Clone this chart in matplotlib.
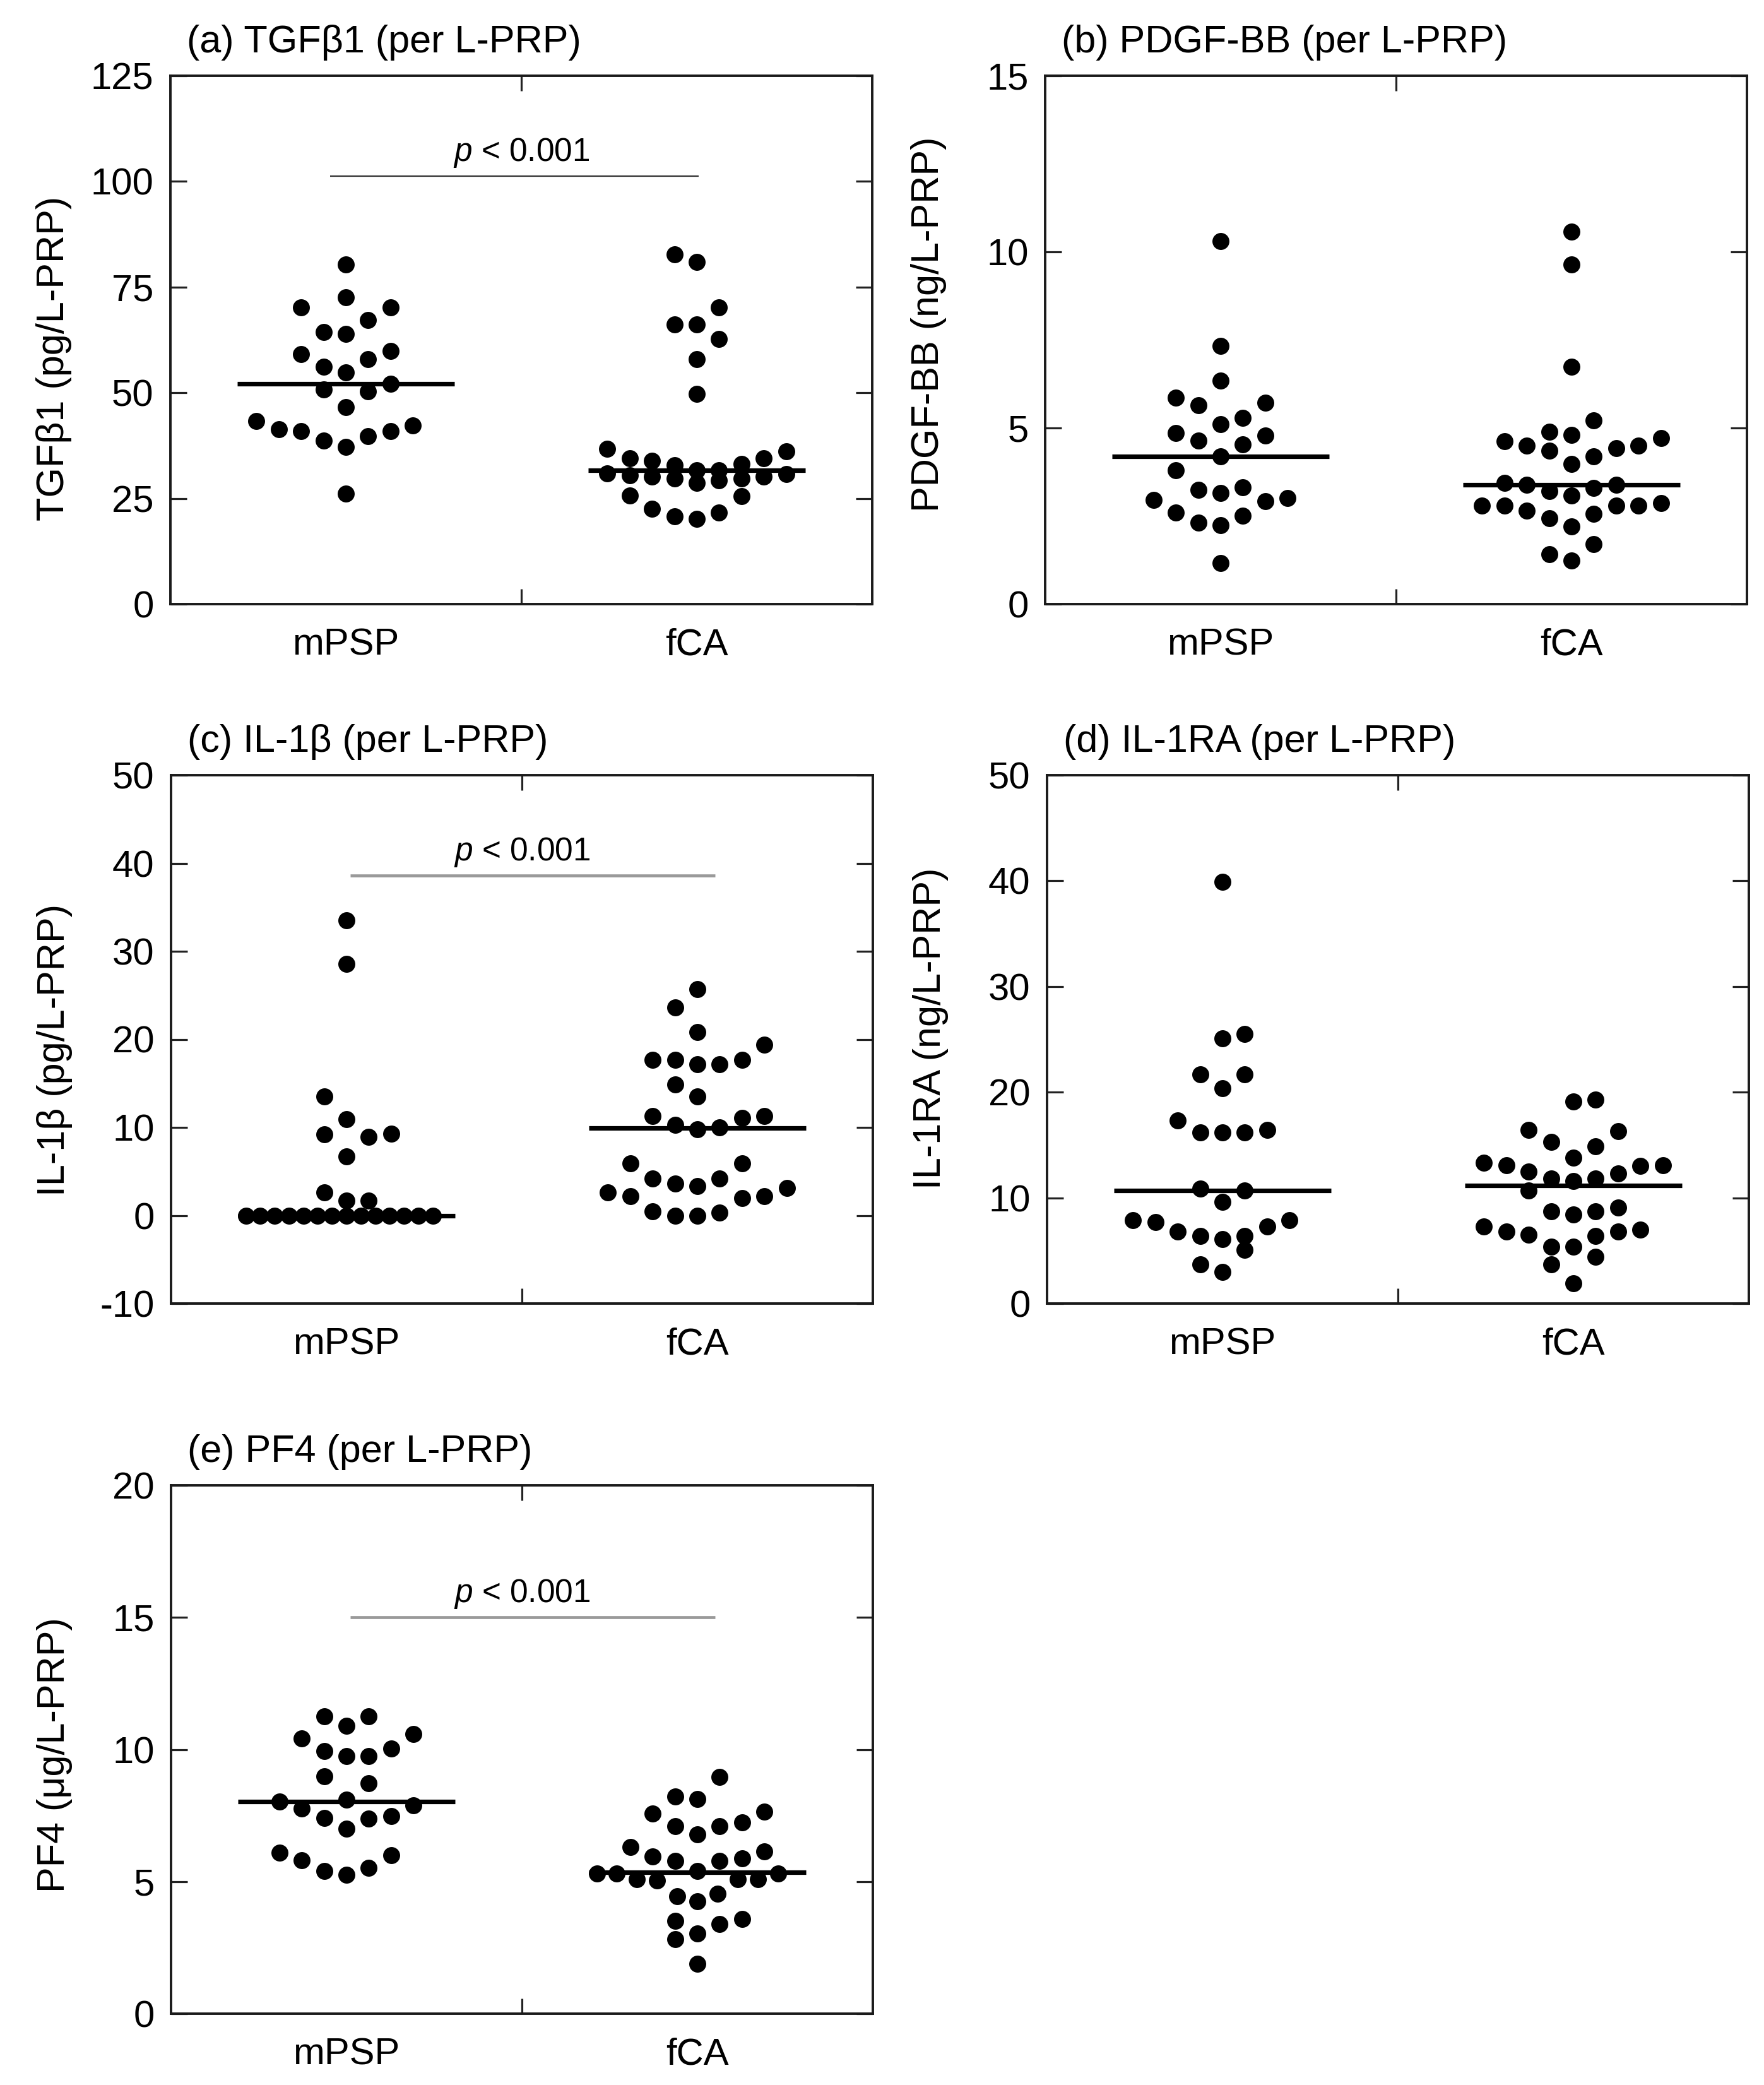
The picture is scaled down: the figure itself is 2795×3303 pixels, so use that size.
import numpy as np
import matplotlib
matplotlib.use("Agg")
import matplotlib.pyplot as plt

plt.rcParams['font.family'] = ['Liberation Sans', 'DejaVu Sans']
plt.rcParams['axes.unicode_minus'] = False
plt.rcParams['mathtext.fontset'] = 'custom'
plt.rcParams['mathtext.rm'] = 'Liberation Sans'
plt.rcParams['mathtext.it'] = 'Liberation Sans:italic'

# ---------------- data ----------------
groups = ['mPSP', 'fCA']

tgfb1_mpsp = [80.3, 72.6, 70.2, 70.2, 67.2, 64.4, 63.9, 59.1, 59.9, 58.0, 56.2, 54.8, 50.8,
              50.3, 52.1, 46.6, 43.3, 41.4, 40.9, 38.7, 37.2, 39.7, 40.9, 42.3, 26.2]
tgfb1_fca = [82.7, 81.0, 70.2, 66.2, 66.2, 62.7, 58.0, 49.8, 36.7, 34.5, 33.9, 32.9, 31.7,
             31.7, 33.2, 34.5, 36.2, 30.7, 30.2, 29.7, 29.7, 28.7, 29.2, 30.2, 30.5, 30.9,
             25.5, 25.7, 22.6, 20.8, 20.1, 21.6]

pdgf_mpsp = [10.30, 7.33, 6.34, 5.86, 5.64, 5.71, 5.29, 5.10, 4.86, 4.79, 4.65, 4.53, 4.20,
             3.80, 3.24, 3.16, 3.32, 2.96, 2.92, 3.01, 2.60, 2.51, 2.32, 2.24, 1.17]
pdgf_fca = [10.57, 9.64, 6.74, 5.22, 4.89, 4.80, 4.63, 4.71, 4.49, 4.49, 4.43, 4.35, 4.20,
            3.98, 3.44, 3.38, 3.38, 3.20, 3.29, 3.08, 2.80, 2.80, 2.80, 2.80, 2.86, 2.66,
            2.44, 2.56, 2.21, 1.71, 1.41, 1.23]

il1b_mpsp = [33.5, 28.6, 13.5, 10.9, 9.2, 8.9, 9.3, 6.7, 2.6, 1.7, 1.7,
             0.0, 0.0, 0.0, 0.0, 0.0, 0.0, 0.0, 0.0, 0.0, 0.0, 0.0, 0.0, 0.0, 0.0]
il1b_fca = [25.7, 23.6, 20.8, 19.4, 17.7, 17.7, 17.7, 17.2, 17.2, 14.9, 13.5, 11.3, 11.1,
            11.3, 10.3, 10.0, 9.8, 5.9, 5.9, 4.2, 4.2, 3.6, 3.3, 3.1, 2.6, 2.2, 2.0, 2.2,
            0.45, 0.3, 0.0, 0.0]

il1ra_mpsp = [39.9, 25.1, 25.5, 21.7, 21.7, 20.4, 17.3, 16.2, 16.2, 16.2, 16.4, 10.9, 10.7,
              9.6, 7.9, 7.7, 7.9, 6.8, 7.3, 6.4, 6.1, 6.4, 5.1, 3.7, 3.0]
il1ra_fca = [19.1, 19.3, 16.45, 16.3, 15.3, 14.9, 13.82, 13.3, 13.1, 13.0, 13.1, 12.5, 12.3,
             11.8, 11.6, 11.8, 10.7, 8.7, 8.4, 8.7, 9.1, 7.3, 6.8, 6.5, 6.8, 7.0, 6.4, 5.4,
             5.4, 4.4, 3.7, 1.9]

pf4_mpsp = [11.26, 11.26, 10.89, 10.41, 10.59, 9.95, 9.74, 9.76, 10.03, 8.99, 8.73, 8.02,
            8.10, 7.77, 7.89, 7.41, 7.39, 7.49, 7.00, 6.09, 5.99, 5.81, 5.41, 5.51, 5.25]
pf4_fca = [8.97, 8.22, 8.13, 7.57, 7.65, 7.25, 7.09, 7.09, 6.79, 6.31, 6.15, 5.95, 5.87,
           5.79, 5.79, 5.31, 5.09, 5.03, 5.39, 5.31, 5.09, 5.09, 5.31, 4.45, 4.25, 4.55,
           3.51, 3.39, 3.59, 2.83, 3.03, 1.89]

titles = ['(a) TGFβ1 (per L-PRP)', '(b) PDGF-BB (per L-PRP)', '(c) IL-1β (per L-PRP)',
          '(d) IL-1RA (per L-PRP)', '(e) PF4 (per L-PRP)']
ylabels = ['TGFβ1 (pg/L-PRP)', 'PDGF-BB (ng/L-PRP)', 'IL-1β (pg/L-PRP)',
           'IL-1RA (ng/L-PRP)', 'PF4 (μg/L-PRP)']
ylims = [(0, 125), (0, 15), (-10, 50), (0, 50), (0, 20)]
yticks = [[0, 25, 50, 75, 100, 125], [0, 5, 10, 15], [-10, 0, 10, 20, 30, 40, 50],
          [0, 10, 20, 30, 40, 50], [0, 5, 10, 15, 20]]
pvalue_text = ['p < 0.001', None, 'p < 0.001', None, 'p < 0.001']
pvalue_y = [101.3, None, 38.6, None, 15.0]

series = [(tgfb1_mpsp, tgfb1_fca), (pdgf_mpsp, pdgf_fca), (il1b_mpsp, il1b_fca),
          (il1ra_mpsp, il1ra_fca), (pf4_mpsp, pf4_fca)]

# ---------------- layout ----------------
W, H = 2795, 3303
DPI = 100
fig = plt.figure(figsize=(W / DPI, H / DPI), dpi=DPI)
fig.patch.set_facecolor('white')

AX_W, AX_H = 1112, 837
boxes = [(270, 120), (1656, 120), (271, 1228), (1659, 1228), (271, 2353)]  # left, top (px)
ylabel_y = [0.465, 0.53, 0.48, 0.52, 0.49]

STEP = 0.0637      # horizontal spacing of dots (data units)
BAND = 0.053       # row height as fraction of the y range
CAP = 9            # max dots per row
MAXHALF = 4.5      # max half-width of a row in steps


def swarm_offsets(vals, yrange):
    vals = np.asarray(vals, float)
    order = np.argsort(vals, kind='stable')
    sv = vals[order]
    offs = np.zeros(len(vals))
    h = BAND * yrange
    left = right = 0
    i, n = 0, len(sv)
    while i < n:
        j = i
        while j < n and sv[j] - sv[i] < h and j - i < CAP:
            j += 1
        while j < n and sv[j] == sv[j - 1]:
            j += 1
        first = 1 if left > right else -1
        ks = []
        for m in range(j - i):
            if m == 0:
                k = 0
            else:
                stepn = (m + 1) // 2
                k = stepn * (first if m % 2 == 1 else -first)
            ks.append(k)
        ks = np.array(ks, float)
        left += int(np.sum(ks < 0))
        right += int(np.sum(ks > 0))
        mk = np.max(np.abs(ks))
        scale = MAXHALF / mk if mk > MAXHALF else 1.0
        offs[order[i:j]] = ks * scale * STEP
        i = j
    return offs


FS = 43
for idx in range(5):
    l, t = boxes[idx]
    ax = fig.add_axes([l / W, 1 - (t + AX_H) / H, AX_W / W, AX_H / H])
    y0, y1 = ylims[idx]
    ax.set_xlim(0, 2)
    ax.set_ylim(y0, y1)
    for gi, vals in enumerate(series[idx]):
        cx = 0.5 + gi
        offs = swarm_offsets(vals, y1 - y0)
        ax.plot(cx + offs, vals, 'o', color='black', ms=19.4, mew=0, zorder=3)
        med = np.median(vals)
        ax.plot([cx - 0.31, cx + 0.31], [med, med], color='black', lw=5.2,
                solid_capstyle='butt', zorder=4)

    ax.set_yticks(yticks[idx])
    ax.set_yticklabels([str(v) for v in yticks[idx]])
    ax.set_xticks([0.5, 1.5])
    ax.set_xticklabels(groups)
    ax.set_xticks([1.0], minor=True)
    ax.tick_params(axis='y', which='major', direction='in', left=True, right=True,
                   length=19, width=2.3, labelsize=FS, pad=19, color='#222222')
    ax.tick_params(axis='x', which='major', length=0, labelsize=FS, pad=27)
    ax.tick_params(axis='x', which='minor', direction='in', bottom=True, top=True,
                   length=17, width=2.3, color='#222222')
    for sp in ax.spines.values():
        sp.set_linewidth(2.8)
        sp.set_color('#1a1a1a')

    ax.set_ylabel(ylabels[idx], fontsize=44)
    ax.yaxis.set_label_coords(-0.14, ylabel_y[idx])
    ax.text(0.023, 1.044, titles[idx], transform=ax.transAxes, fontsize=44,
            ha='left', va='baseline')

    if pvalue_text[idx] is not None:
        py = pvalue_y[idx]
        if idx == 0:
            x0, x1, col, lw = 0.455, 1.505, '#333333', 1.6
        else:
            x0, x1, col, lw = 0.51, 1.55, '#9a9a9a', 3.4
        ax.plot([x0, x1], [py, py], color=col, lw=lw, solid_capstyle='butt')
        off = 24 / AX_H * (y1 - y0)
        ax.text(1.0, py + off, r'$\it{p}$ < 0.001', fontsize=37, ha='center',
                va='baseline')

fig.savefig('out.png', dpi=DPI, facecolor='white')
